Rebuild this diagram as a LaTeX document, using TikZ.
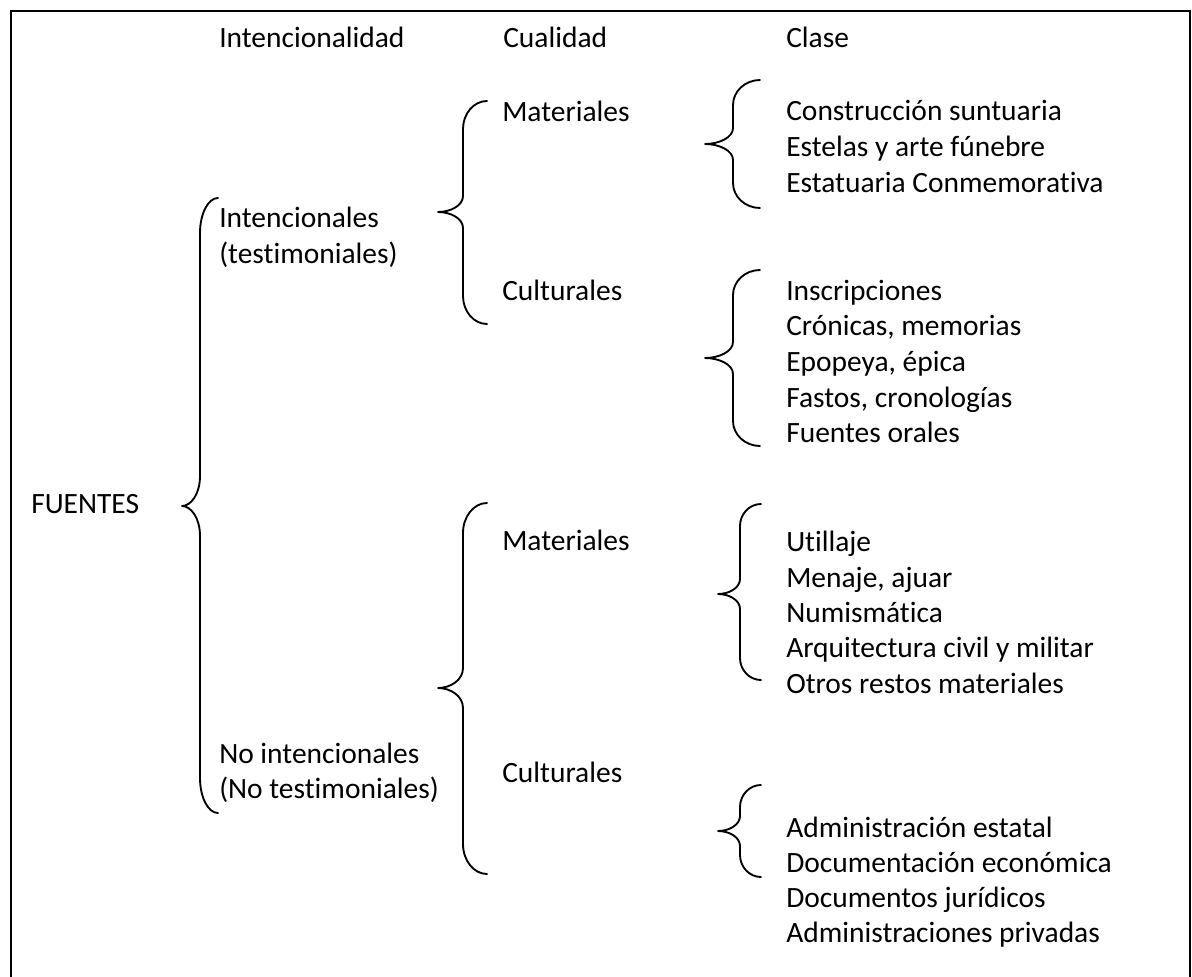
\documentclass[tikz,border=0pt]{standalone}
\usepackage{fontspec}
\setmainfont{Carlito}[Ligatures={NoCommon}]
\tikzset{
  txt/.style={anchor=base west, inner sep=0pt, font=\fontsize{22.1}{26}\selectfont},
  bracestyle/.style={line width=1.4pt, line cap=round, line join=round},
  frame/.style={line width=1.5pt}
}
% #1 xe, #2 xv, #3 xt, #4 yt, #5 ym, #6 yb, #7 hook height, #8 tip height
\newcommand\mybrc[8]{%
  \draw[bracestyle] (#1,#4) .. controls ({#2+0.45*(#1-#2)},#4) and (#2,{#4+0.45*#7}) .. (#2,{#4+#7})
    -- (#2,{#5-#8}) .. controls (#2,{#5-0.4*#8}) and ({#3+0.5*(#2-#3)},#5) .. (#3,#5)
    .. controls ({#3+0.5*(#2-#3)},#5) and (#2,{#5+0.4*#8}) .. (#2,{#5+#8})
    -- (#2,{#6-#7}) .. controls (#2,{#6-0.45*#7}) and ({#2+0.45*(#1-#2)},#6) .. (#1,#6);}
\begin{document}
\begin{tikzpicture}[x=0.75pt,y=-0.75pt]
\useasboundingbox (0,0) rectangle (1192,977);
\fill[white] (0,0) rectangle (1192,977);
\draw[frame] (11,985) -- (11,11) -- (1190,11) -- (1190,985);
% headers
\node[txt] (hint) at (219,48) {Intencionalidad};
\node[txt] (hcual) at (503,48) {Cualidad};
\node[txt] (hclase) at (786,48) {Clase};
% level 0
\node[txt] (fuentes) at (31,513) {FUENTES};
% level 1
\node[txt] (inta) at (219,228) {Intencionales};
\node[txt] (intb) at (219,263) {(testimoniales)};
\node[txt] (nointa) at (219,763) {No intencionales};
\node[txt] (nointb) at (219,798) {(No testimoniales)};
% level 2
\node[txt] (mat1) at (502,122) {Materiales};
\node[txt] (cul1) at (502,300) {Culturales};
\node[txt] (mat2) at (502,550) {Materiales};
\node[txt] (cul2) at (502,782) {Culturales};
% level 3
\node[txt] (c1a) at (786,121) {Construcción suntuaria};
\node[txt] (c1b) at (786,157) {Estelas y arte fúnebre};
\node[txt] (c1c) at (786,193) {Estatuaria Conmemorativa};
\node[txt] (c2a) at (786,300) {Inscripciones};
\node[txt] (c2b) at (786,335) {Crónicas, memorias};
\node[txt] (c2c) at (786,371) {Epopeya, épica};
\node[txt] (c2d) at (786,407) {Fastos, cronologías};
\node[txt] (c2e) at (786,442) {Fuentes orales};
\node[txt] (c3a) at (786,551) {Utillaje};
\node[txt] (c3b) at (786,587) {Menaje, ajuar};
\node[txt] (c3c) at (786,622) {Numismática};
\node[txt] (c3d) at (786,657) {Arquitectura civil y militar};
\node[txt] (c3e) at (786,693) {Otros restos materiales};
\node[txt] (c4a) at (786,837) {Administración estatal};
\node[txt] (c4b) at (786,872) {Documentación económica};
\node[txt] (c4c) at (786,907) {Documentos jurídicos};
\node[txt] (c4d) at (786,942) {Administraciones privadas};
% braces
\mybrc{218}{200}{182}{198}{506}{813}{35}{30}
\mybrc{487}{463}{438}{101}{212}{324}{28}{16}
\mybrc{487}{463}{438}{503}{688}{874}{30}{20}
\mybrc{760}{733}{705}{80}{144}{208}{25}{16}
\mybrc{760}{733}{705}{270}{358}{446}{25}{16}
\mybrc{761}{740}{718}{504}{594}{680}{22}{15}
\mybrc{761}{740}{718}{785}{831}{877}{22}{15}
\end{tikzpicture}
\end{document}
